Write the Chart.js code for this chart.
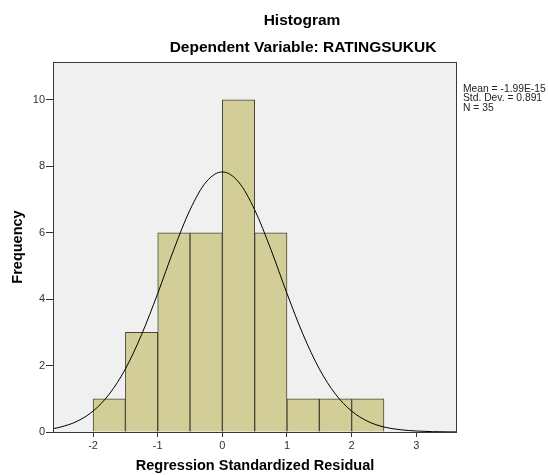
<!DOCTYPE html>
<html>
<head>
<meta charset="utf-8">
<script src="https://cdn.jsdelivr.net/npm/chart.js@4.4.1/dist/chart.umd.min.js"></script>
<style>
    body { margin: 0; background: #fff; }
    #histChart { display: block; }
</style>
</head>
<body>
<canvas id="histChart" width="548" height="475"></canvas>
<script>
// histogram bins (centers, width 0.5) and counts
var binCenters = [-1.75, -1.25, -0.75, -0.25, 0.25, 0.75, 1.25, 1.75, 2.25];
var frequencies = [1, 3, 6, 6, 10, 6, 1, 1, 1];

// normal curve
var curveX = [-2.62, -2.5, -2.25, -2, -1.75, -1.5, -1.25, -1, -0.75, -0.5, -0.25, 0, 0.25, 0.5, 0.75, 1, 1.25, 1.5, 1.75, 2, 2.25, 2.5, 2.75, 3, 3.25, 3.5, 3.63];
var curveY = [0.1, 0.15, 0.32, 0.63, 1.14, 1.9, 2.93, 4.17, 5.5, 6.69, 7.53, 7.83, 7.53, 6.69, 5.5, 4.17, 2.93, 1.9, 1.14, 0.63, 0.32, 0.15, 0.07, 0.03, 0.01, 0.004, 0.002];

var xTicks = [-2, -1, 0, 1, 2, 3];
var yTicks = [0, 2, 4, 6, 8, 10];

var statsLines = ["Mean = -1.99E-15", "Std. Dev. = 0.891", "N = 35"];

var FONT = "'Liberation Sans', Arial, sans-serif";

var spssDecor = {
    id: 'spssDecor',
    beforeDatasetsDraw: function (chart) {
        var a = chart.chartArea, ctx = chart.ctx;
        ctx.save();
        ctx.fillStyle = '#F0F0F0';
        ctx.fillRect(a.left, a.top, a.right - a.left, a.bottom - a.top);
        ctx.restore();
    },
    afterDraw: function (chart) {
        var a = chart.chartArea, ctx = chart.ctx;
        ctx.save();
        ctx.strokeStyle = '#3a3a3a';
        ctx.lineWidth = 1;
        ctx.strokeRect(a.left + 0.5, a.top + 0.5, a.right - a.left - 1, a.bottom - a.top);

        ctx.fillStyle = '#000';
        ctx.textAlign = 'center';
        ctx.textBaseline = 'middle';
        ctx.font = 'bold 15.5px ' + FONT;
        ctx.fillText('Histogram', 302, 21);
        ctx.fillText('Dependent Variable: RATINGSUKUK', 303, 48);

        ctx.font = 'bold 14.5px ' + FONT;
        ctx.fillText('Regression Standardized Residual', (a.left + a.right) / 2, 466);

        ctx.save();
        ctx.translate(18, 247);
        ctx.rotate(-Math.PI / 2);
        ctx.fillText('Frequency', 0, 0);
        ctx.restore();

        ctx.fillStyle = '#222';
        ctx.textAlign = 'left';
        ctx.font = '10.3px ' + FONT;
        for (var i = 0; i < statsLines.length; i++) {
            ctx.fillText(statsLines[i], 463, 89 + i * 9.5);
        }
        ctx.restore();
    }
};

new Chart("histChart", {
    type: 'bar',
    data: {
        datasets: [{
            type: 'bar',
            data: binCenters.map(function (x, i) { return { x: x, y: frequencies[i] }; }),
            backgroundColor: '#D3CE97',
            borderColor: '#45453A',
            borderWidth: 1,
            barPercentage: 1,
            categoryPercentage: 1,
            order: 2
        }, {
            type: 'line',
            data: curveX.map(function (x, i) { return { x: x, y: curveY[i] }; }),
            borderColor: '#000',
            borderWidth: 1,
            pointRadius: 0,
            fill: false,
            cubicInterpolationMode: 'monotone',
            order: 1
        }]
    },
    options: {
        responsive: false,
        animation: false,
        layout: {
            padding: { left: 0, right: 91, top: 62, bottom: 0 }
        },
        plugins: {
            legend: { display: false },
            tooltip: { enabled: false }
        },
        scales: {
            x: {
                type: 'linear',
                min: -2.62,
                max: 3.63,
                offset: false,
                afterBuildTicks: function (s) { s.ticks = xTicks.map(function (v) { return { value: v }; }); },
                afterFit: function (s) { s.height = 43; },
                grid: { offset: false, drawOnChartArea: false, drawTicks: true, tickLength: 5, color: '#333' },
                border: { display: false },
                ticks: {
                    color: '#333',
                    padding: 2,
                    maxRotation: 0,
                    font: { size: 11, family: FONT }
                }
            },
            y: {
                min: 0,
                max: 11.14,
                afterBuildTicks: function (s) { s.ticks = yTicks.map(function (v) { return { value: v }; }); },
                afterFit: function (s) { s.width = 53; },
                grid: { drawOnChartArea: false, drawTicks: true, tickLength: 7, color: '#333' },
                border: { display: false },
                ticks: {
                    color: '#333',
                    padding: 1,
                    font: { size: 11, family: FONT }
                }
            }
        }
    },
    plugins: [spssDecor]
});
</script>
</body>
</html>
